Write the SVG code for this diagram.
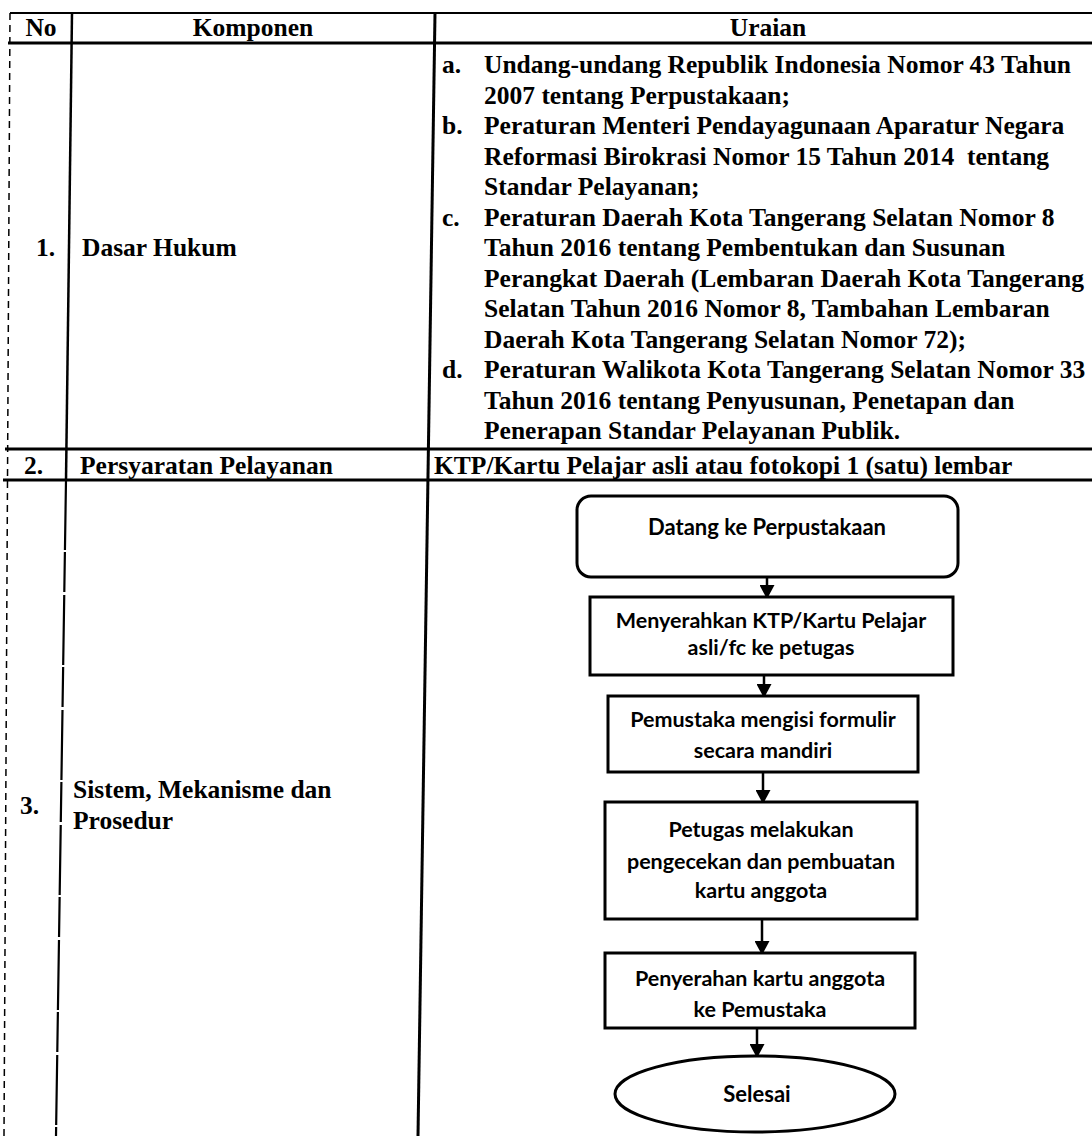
<svg xmlns="http://www.w3.org/2000/svg" width="1092" height="1136" viewBox="0 0 1092 1136">
<defs>
<style>
.t{font-family:"Liberation Serif","Times New Roman",serif;font-weight:bold;font-size:25.5px;fill:#000}
.h{text-anchor:middle}
.f{font-family:Lato,"Open Sans",sans-serif;font-weight:bold;font-size:21.5px;fill:#000;text-anchor:middle}
.fl{font-size:22px}
.ln{stroke:#000;fill:none}
.box{fill:#fff;stroke:#000;stroke-width:3}
.arr{stroke:#000;stroke-width:2.5;fill:none;marker-end:url(#ah)}
</style>
<marker id="ah" markerWidth="14" markerHeight="15" refX="12" refY="7.5" orient="auto" markerUnits="userSpaceOnUse">
<path d="M0,0 L14,7.5 L0,15 Z" fill="#000"/>
</marker>
</defs>
<rect width="1092" height="1136" fill="#fff"/>

<g id="table-lines">
<line class="ln" x1="10" y1="13" x2="1092" y2="13" stroke-width="2"/>
<line class="ln" x1="8" y1="43" x2="1092" y2="43" stroke-width="3"/>
<line class="ln" x1="5" y1="449" x2="1092" y2="449" stroke-width="3"/>
<line class="ln" x1="3" y1="480" x2="1092" y2="480" stroke-width="3"/>
<line class="ln" x1="10" y1="13" x2="4" y2="1136" stroke-width="1.5" stroke-dasharray="7 5"/>
<line class="ln" x1="72" y1="13" x2="66" y2="480" stroke-width="2.5"/>
<line class="ln" x1="66" y1="480" x2="56" y2="1136" stroke-width="2.2" stroke-dasharray="70 2 40 3"/>
<line class="ln" x1="435" y1="13" x2="418" y2="1136" stroke-width="3"/>
</g>

<g id="header">
<text class="t h" x="41" y="36">No</text>
<text class="t h" x="253" y="36">Komponen</text>
<text class="t h" x="768" y="36">Uraian</text>
</g>

<g id="row1">
<text class="t" x="36" y="256">1.</text>
<text class="t" x="82" y="256">Dasar Hukum</text>
<text class="t" x="442" y="73">a.</text>
<text class="t" x="442" y="134">b.</text>
<text class="t" x="442" y="225.5">c.</text>
<text class="t" x="442" y="378">d.</text>
<text class="t" x="484" y="73">Undang-undang Republik Indonesia Nomor 43 Tahun</text>
<text class="t" x="484" y="103.5">2007 tentang Perpustakaan;</text>
<text class="t" x="484" y="134">Peraturan Menteri Pendayagunaan Aparatur Negara</text>
<text class="t" x="484" y="164.5" style="white-space:pre">Reformasi Birokrasi Nomor 15 Tahun 2014  tentang</text>
<text class="t" x="484" y="195">Standar Pelayanan;</text>
<text class="t" x="484" y="225.5">Peraturan Daerah Kota Tangerang Selatan Nomor 8</text>
<text class="t" x="484" y="256">Tahun 2016 tentang Pembentukan dan Susunan</text>
<text class="t" x="484" y="286.5">Perangkat Daerah (Lembaran Daerah Kota Tangerang</text>
<text class="t" x="484" y="317">Selatan Tahun 2016 Nomor 8, Tambahan Lembaran</text>
<text class="t" x="484" y="347.5">Daerah Kota Tangerang Selatan Nomor 72);</text>
<text class="t" x="484" y="378">Peraturan Walikota Kota Tangerang Selatan Nomor 33</text>
<text class="t" x="484" y="408.5">Tahun 2016 tentang Penyusunan, Penetapan dan</text>
<text class="t" x="484" y="439">Penerapan Standar Pelayanan Publik.</text>
</g>

<g id="row2">
<text class="t" x="24" y="474">2.</text>
<text class="t" x="80" y="474">Persyaratan Pelayanan</text>
<text class="t" x="434" y="474">KTP/Kartu Pelajar asli atau fotokopi 1 (satu) lembar</text>
</g>

<g id="row3">
<text class="t" x="20" y="814">3.</text>
<text class="t" x="73" y="798">Sistem, Mekanisme dan</text>
<text class="t" x="73" y="829">Prosedur</text>
</g>

<g id="connectors">
<line class="arr" x1="767" y1="577" x2="767" y2="597"/>
<line class="arr" x1="764" y1="675" x2="764" y2="696"/>
<line class="arr" x1="763" y1="772" x2="763" y2="802"/>
<line class="arr" x1="762" y1="919" x2="762" y2="953"/>
<line class="arr" x1="757" y1="1023" x2="757" y2="1056"/>
</g>

<g id="n1">
<rect class="box" x="577" y="496" width="381" height="81" rx="14"/>
<text class="f fl" x="767" y="535">Datang ke Perpustakaan</text>
</g>
<g id="n2">
<rect class="box" x="590" y="597" width="363" height="78"/>
<text class="f" x="771" y="628">Menyerahkan KTP/Kartu Pelajar</text>
<text class="f" x="771" y="655">asli/fc ke petugas</text>
</g>
<g id="n3">
<rect class="box" x="608" y="696" width="310" height="76"/>
<text class="f" x="763" y="727">Pemustaka mengisi formulir</text>
<text class="f" x="763" y="758">secara mandiri</text>
</g>
<g id="n4">
<rect class="box" x="605" y="802" width="312" height="117"/>
<text class="f" x="761" y="837">Petugas melakukan</text>
<text class="f" x="761" y="869">pengecekan dan pembuatan</text>
<text class="f" x="761" y="898">kartu anggota</text>
</g>
<g id="n5">
<rect class="box" x="605" y="953" width="310" height="75"/>
<text class="f" x="760" y="986">Penyerahan kartu anggota</text>
<text class="f" x="760" y="1017">ke Pemustaka</text>
</g>
<g id="n6">
<ellipse class="box" cx="755" cy="1094" rx="140" ry="38"/>
<text class="f fl" x="757" y="1102">Selesai</text>
</g>
</svg>
